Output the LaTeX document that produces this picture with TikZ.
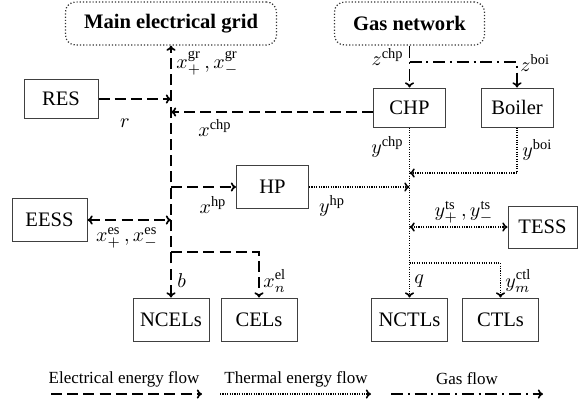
\documentclass[tikz,border=0pt]{standalone}
\usepackage{fontspec}
\setmainfont{Liberation Serif}
\usepackage{amsmath}
\usepackage{tikz}
\usetikzlibrary{arrows.meta}

\begin{document}
\begin{tikzpicture}[x=0.5pt, y=-0.5pt, >={To[length=2.6pt,width=4.6pt]},
    every node/.style={font=\fontsize{10.3}{12}\selectfont},
    unit/.style={draw=black!75, line width=0.5pt, rectangle, minimum width=36pt, minimum height=21.5pt, inner sep=1pt},
    topunit/.style={unit, minimum height=19.5pt},
    net/.style={draw=black!80, densely dotted, line width=0.6pt, rounded corners=5pt, minimum height=21.5pt, font=\fontsize{10.3}{12}\selectfont\bfseries},
    lbl/.style={inner sep=0pt},
    legend/.style={inner sep=0pt, font=\fontsize{8.5}{10}\selectfont},
    elec/.style={line width=0.85pt, dash pattern=on 5.5pt off 2.6pt},
    therm/.style={line width=0.8pt, dash pattern=on 0.55pt off 0.65pt},
    gas/.style={line width=0.8pt, dash pattern=on 6pt off 2.4pt on 1pt off 2.4pt}]
    \useasboundingbox (0,0) rectangle (578,409);

    % Networks
    \node[net, minimum width=105.5pt] (grid) at (171, 23.5) {Main electrical grid};
    \node[net, minimum width=75pt] (gas) at (409.5, 23.5) {Gas network};

    % Units
    \node[topunit, minimum width=37pt] (res) at (61, 98.5) {RES};
    \node[topunit] (chp) at (409.5, 107.5) {CHP};
    \node[topunit] (boi) at (517, 107.5) {Boiler};
    \node[unit] (hp) at (272.5, 187) {HP};
    \node[unit, minimum width=37.5pt] (eess) at (49.5, 220) {EESS};
    \node[unit, minimum width=34.5pt, minimum height=21pt] (tess) at (542.5, 227) {TESS};

    % Loads
    \foreach \name/\xpos/\txt in {ncel/171/NCELs, cel/259/CELs, nctl/409.5/NCTLs, ctl/500.5/CTLs} {
        \node[unit, minimum width=38pt] (\name) at (\xpos, 319.5) {\txt};
    }

    % Bus points
    \coordinate (eres) at (171, 99);
    \coordinate (echp) at (171, 112);
    \coordinate (ehp) at (171, 187);
    \coordinate (bes) at (171, 220);
    \coordinate (ecel) at (171, 252);
    \coordinate (tboi) at (409.5, 173);
    \coordinate (thp) at (409.5, 187);
    \coordinate (tts) at (409.5, 227);
    \coordinate (tctl) at (409.5, 263);
    \coordinate (gbr) at (409.5, 62);

    % Electrical flows
    \draw[elec, <->] (ncel) -- (grid);
    \draw[elec, ->] (res.east |- eres) -- (eres);
    \draw[elec, ->] (chp.west |- echp) -- (echp);
    \draw[elec, ->] (ehp) -- (hp);
    \draw[elec, <->] (eess) -- (bes);
    \draw[elec, ->] (ecel) -| (cel);

    % Thermal flows
    \draw[therm, ->] (chp) -- (nctl);
    \draw[therm, ->] (boi) |- (tboi);
    \draw[therm, ->] (hp) -- (thp);
    \draw[therm, <->] (tess) -- (tts);
    \draw[therm, ->] (tctl) -| (ctl);

    % Gas flows
    \draw[gas, ->] (gas) -- (chp);
    \draw[gas, ->] (gbr) -| (boi);

    % Labels
    \node[lbl, anchor=west] (lgr) at (176, 63) {$x_{+}^{\mathrm{gr}}\,, x_{-}^{\mathrm{gr}}$};
    \node[lbl] (lr) at (125, 123) {$r$};
    \node[lbl] (lxchp) at (215, 128) {$x^{\mathrm{chp}}$};
    \node[lbl, anchor=east] (lzchp) at (404, 57) {$z^{\mathrm{chp}}$};
    \node[lbl, anchor=west] (lzboi) at (520, 63) {$z^{\mathrm{boi}}$};
    \node[lbl, anchor=east] (lychp) at (404, 147) {$y^{\mathrm{chp}}$};
    \node[lbl, anchor=west] (lyboi) at (522, 150) {$y^{\mathrm{boi}}$};
    \node[lbl] (lxhp) at (213, 205) {$x^{\mathrm{hp}}$};
    \node[lbl] (lyhp) at (332, 206) {$y^{\mathrm{hp}}$};
    \node[lbl] (les) at (127, 238) {$x_{+}^{\mathrm{es}}\,, x_{-}^{\mathrm{es}}$};
    \node[lbl] (lts) at (464, 212) {$y_{+}^{\mathrm{ts}}\,, y_{-}^{\mathrm{ts}}$};
    \node[lbl, anchor=west] (lb) at (177, 281) {$b$};
    \node[lbl, anchor=west] (lel) at (263, 281) {$x_{n}^{\mathrm{el}}$};
    \node[lbl, anchor=west] (lq) at (414, 281) {$q$};
    \node[lbl, anchor=west] (lctl) at (505, 281) {$y_{m}^{\mathrm{ctl}}$};

    % Legend
    \node[legend] (kelec) at (124, 379) {Electrical energy flow};
    \node[legend] (ktherm) at (296, 379) {Thermal energy flow};
    \node[legend] (kgas) at (467, 379) {Gas flow};
    \coordinate (ke1) at (51, 394);  \coordinate (ke2) at (202, 394);
    \coordinate (kt1) at (220, 394); \coordinate (kt2) at (371, 394);
    \coordinate (kg1) at (391, 394); \coordinate (kg2) at (543, 394);
    \draw[elec, ->] (ke1) -- (ke2);
    \draw[therm, ->] (kt1) -- (kt2);
    \draw[gas, ->] (kg1) -- (kg2);
\end{tikzpicture}
\end{document}
